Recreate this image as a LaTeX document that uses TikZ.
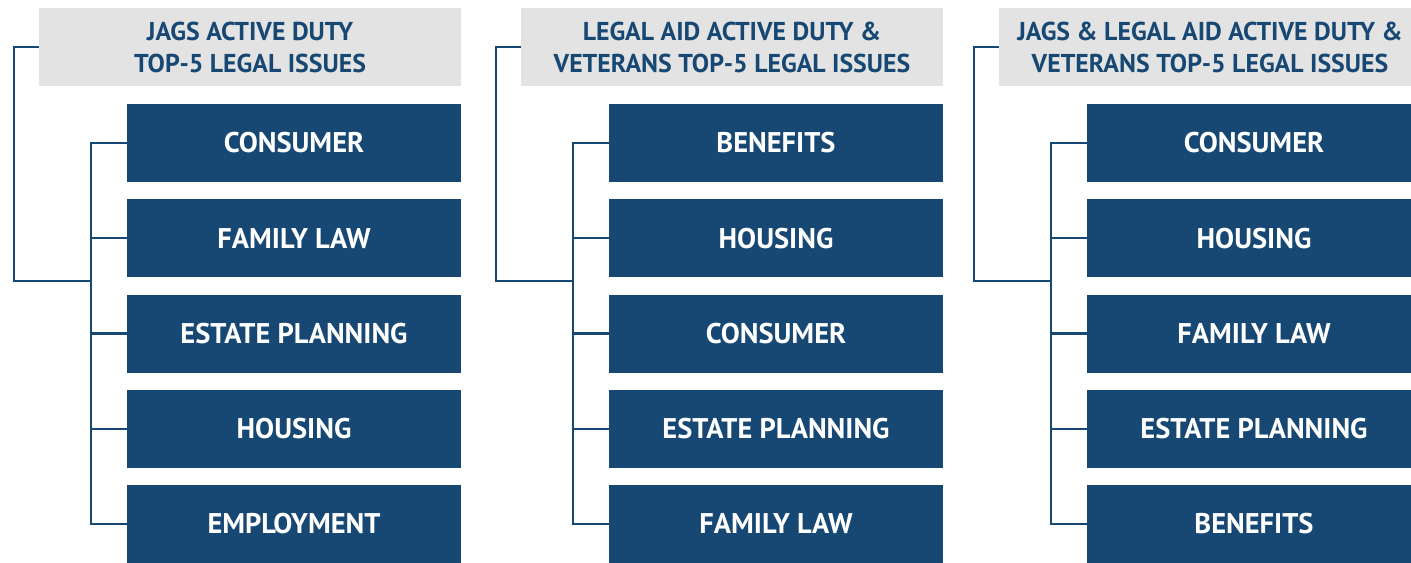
\documentclass[tikz,border=0pt]{standalone}
\usepackage{fontspec}
\setmainfont{PT Sans}
\definecolor{navy}{HTML}{174873}
\definecolor{panel}{HTML}{E3E3E3}
\tikzset{
  issue/.style={fill=navy, text=white, minimum width=6.68cm, minimum height=1.56cm,
    inner sep=0pt, font=\fontsize{16.2}{19}\selectfont\bfseries},
  heading/.style={fill=panel, text=navy, minimum width=8.44cm, minimum height=1.56cm,
    inner sep=0pt, align=center, font=\fontsize{14.7}{18.2}\selectfont\bfseries},
  link/.style={draw=navy, line width=1.2pt}
}
\begin{document}
\begin{tikzpicture}[x=0.02cm, y=-0.02cm]
\useasboundingbox (0,0) rectangle (1411,562);
\clip (0,0) rectangle (1411,562);
\foreach \c/\dx/\t in {1/0/{JAGS ACTIVE DUTY\\TOP-5 LEGAL ISSUES},
    2/482/{LEGAL AID ACTIVE DUTY \&\\VETERANS TOP-5 LEGAL ISSUES},
    3/960/{JAGS \& LEGAL AID ACTIVE DUTY \&\\VETERANS TOP-5 LEGAL ISSUES}}
{
    \draw (250+\dx, 47) node[heading] (h\c) {\t};
    \coordinate (j\c) at (91+\dx, 281);
}
\foreach \c/\dx/\items in {1/0/{CONSUMER,FAMILY LAW,ESTATE PLANNING,HOUSING,EMPLOYMENT},
    2/482/{BENEFITS,HOUSING,CONSUMER,ESTATE PLANNING,FAMILY LAW},
    3/960/{CONSUMER,HOUSING,FAMILY LAW,ESTATE PLANNING,BENEFITS}}
    \foreach \name [count=\i] in \items
        \draw (294+\dx, {143+95.25*(\i-1)}) node[issue] (b\c\i) {\name};
% brackets
\foreach \c in {1,2,3} {
    \draw[link] (b\c1.west) -- ++(-36,0) coordinate (t\c) |- (b\c5.west);
    \foreach \i in {2,3,4}
        \draw[link] (b\c\i.west) -- (b\c\i.west -| t\c);
    \draw[link] (h\c.west) -- ++(-25,0) |- (j\c);
}
\end{tikzpicture}
\end{document}
